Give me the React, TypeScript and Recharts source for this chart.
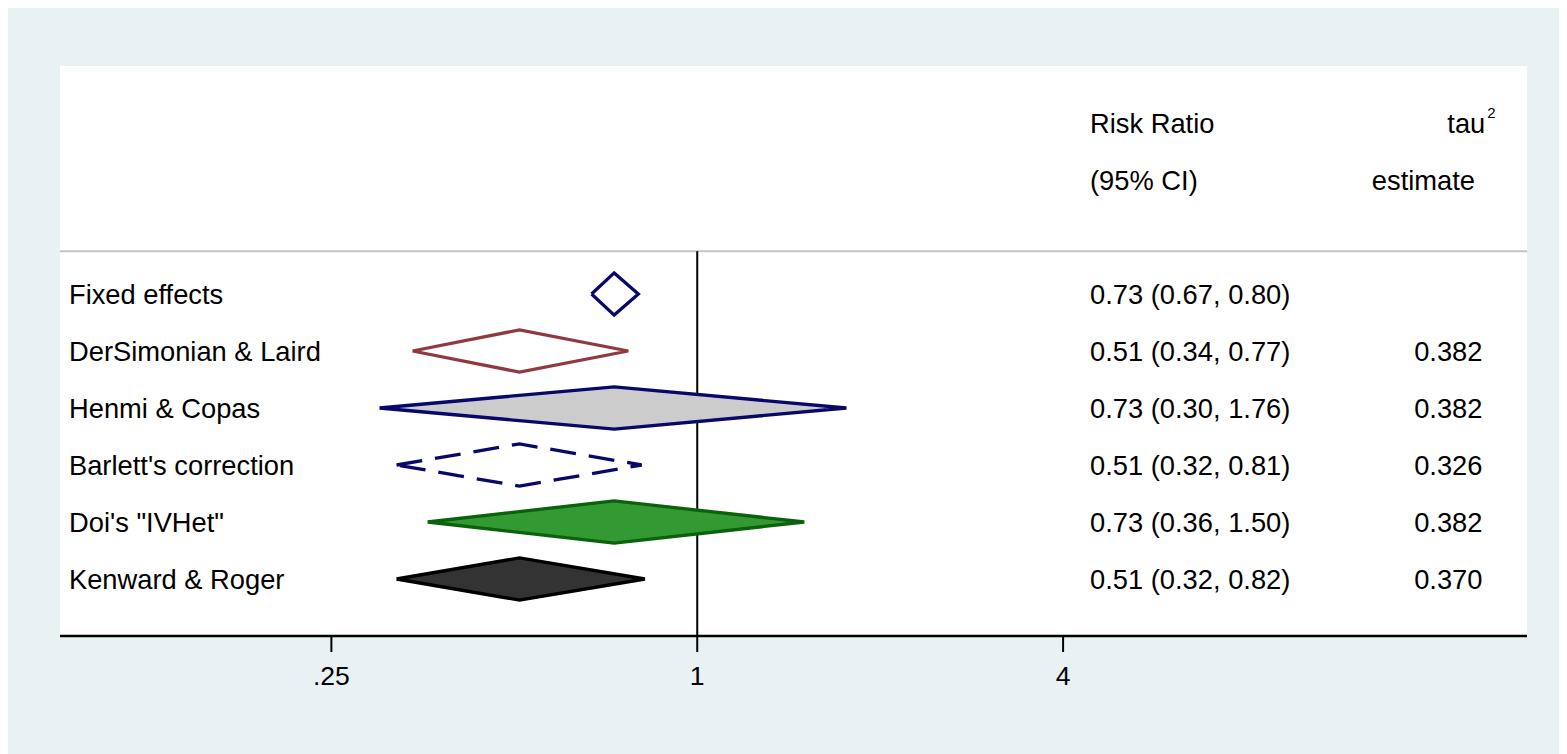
import React from 'react';
import { CartesianGrid, ComposedChart, ReferenceLine, Scatter, XAxis, YAxis } from 'recharts';

// Pooled risk ratio by estimation method (log-scale forest plot)
const methods = [
  'Fixed effects',
  'DerSimonian & Laird',
  'Henmi & Copas',
  "Barlett's correction",
  'Doi\'s "IVHet"',
  'Kenward & Roger',
];
const estimates = [0.73, 0.51, 0.73, 0.51, 0.73, 0.51];
const lowerCI = [0.67, 0.34, 0.3, 0.32, 0.36, 0.32];
const upperCI = [0.8, 0.77, 1.76, 0.81, 1.5, 0.82];
const tau2 = [null, 0.382, 0.382, 0.326, 0.382, 0.37];

const xTicks = [0.25, 1, 4];
const xTickLabels = ['.25', '1', '4'];

const NAVY = '#08086a';
const FONT = '"Liberation Sans", Arial, Helvetica, sans-serif';
const FONT_SIZE = 27.3;

const diamondStyles = [
  { fill: '#ffffff', stroke: NAVY },
  { fill: '#ffffff', stroke: '#8f3a3f' },
  { fill: '#cccccc', stroke: NAVY },
  { fill: '#ffffff', stroke: NAVY, dash: '26 13' },
  { fill: '#339933', stroke: '#0a620a' },
  { fill: '#333333', stroke: '#000000' },
];

// axis positions (risk-ratio units) of the text columns
const LABEL_COL = 0.0925;
const CI_COL = 4.43;
const TAU_COL = 19.6;
const TAU_HEAD_COL = 20.6;
const EST_HEAD_COL = 19.05;
const HALF_H = 0.37;
const SEPARATOR = 0.25;

const fmt2 = (v: number) => v.toFixed(2);

const diamond = (i: number) => {
  const y = i + 1;
  return [
    { x: lowerCI[i], y },
    { x: estimates[i], y: y - HALF_H },
    { x: upperCI[i], y },
    { x: estimates[i], y: y + HALF_H },
    { x: lowerCI[i], y },
  ];
};

const labelRows = methods.map((m, i) => ({ x: LABEL_COL, y: i + 1, text: m }));
const ciRows = methods.map((_, i) => ({
  x: CI_COL,
  y: i + 1,
  text: `${fmt2(estimates[i])} (${fmt2(lowerCI[i])}, ${fmt2(upperCI[i])})`,
}));
const tauRows = tau2
  .map((t, i) => ({ x: TAU_COL, y: i + 1, text: t == null ? '' : t.toFixed(3) }))
  .filter((r) => r.text !== '');

const headerLeft = [
  { x: CI_COL, y: -2, text: 'Risk Ratio' },
  { x: CI_COL, y: -1, text: '(95% CI)' },
];
const headerEst = [{ x: EST_HEAD_COL, y: -1, text: 'estimate' }];
const headerTau = [{ x: TAU_HEAD_COL, y: -2, text: 'tau' }];

const textShape = (anchor: 'start' | 'end') => (props: any) => {
  const { cx, cy, payload } = props;
  return (
    <text x={cx} y={cy} dy={9.5} textAnchor={anchor} fontFamily={FONT} fontSize={FONT_SIZE} fill="#000">
      {payload.text}
    </text>
  );
};

const tauShape = (props: any) => {
  const { cx, cy, payload } = props;
  return (
    <text x={cx} y={cy} dy={9.5} textAnchor="end" fontFamily={FONT} fontSize={FONT_SIZE} fill="#000">
      {payload.text}
      <tspan fontSize={15} dx={2} dy={-15}>2</tspan>
    </text>
  );
};

const AxisTick = (props: any) => {
  const { x, y, payload, index } = props;
  return (
    <text x={x} y={y} dy={31} textAnchor="middle" fontFamily={FONT} fontSize={26.5} fill="#000">
      {xTickLabels[index] ?? String(payload.value)}
    </text>
  );
};

const noMarker = () => <g />;

export default function App() {
  return (
    <div style={{ width: 1558, height: 746, background: '#eaf1f3' }}>
      <ComposedChart width={1558} height={746} margin={{ top: 58, right: 39, bottom: 58, left: 52 }}>
        <CartesianGrid horizontal={false} vertical={false} fill="#ffffff" fillOpacity={1} />
        <XAxis
          type="number"
          dataKey="x"
          scale="log"
          domain={[0.0894, 23.2]}
          allowDataOverflow
          ticks={xTicks}
          height={60}
          tickSize={16}
          axisLine={{ stroke: '#000', strokeWidth: 2.5 }}
          tickLine={{ stroke: '#000', strokeWidth: 2 }}
          tick={<AxisTick />}
        />
        <YAxis type="number" dataKey="y" domain={[-3, 7]} reversed hide allowDataOverflow />
        <ReferenceLine y={SEPARATOR} stroke="#c4c4c4" strokeWidth={2} />
        <ReferenceLine
          segment={[
            { x: 1, y: SEPARATOR },
            { x: 1, y: 7 },
          ]}
          stroke="#000"
          strokeWidth={2}
        />
        {methods.map((m, i) => (
          <Scatter
            key={m}
            data={diamond(i)}
            isAnimationActive={false}
            shape={noMarker}
            lineType="joint"
            line={{
              fill: diamondStyles[i].fill,
              stroke: diamondStyles[i].stroke,
              strokeWidth: 3.3,
              strokeDasharray: diamondStyles[i].dash,
              strokeLinejoin: 'miter',
            }}
          />
        ))}
        <Scatter data={labelRows} isAnimationActive={false} shape={textShape('start')} />
        <Scatter data={ciRows} isAnimationActive={false} shape={textShape('start')} />
        <Scatter data={tauRows} isAnimationActive={false} shape={textShape('end')} />
        <Scatter data={headerLeft} isAnimationActive={false} shape={textShape('start')} />
        <Scatter data={headerEst} isAnimationActive={false} shape={textShape('end')} />
        <Scatter data={headerTau} isAnimationActive={false} shape={tauShape} />
      </ComposedChart>
    </div>
  );
}
